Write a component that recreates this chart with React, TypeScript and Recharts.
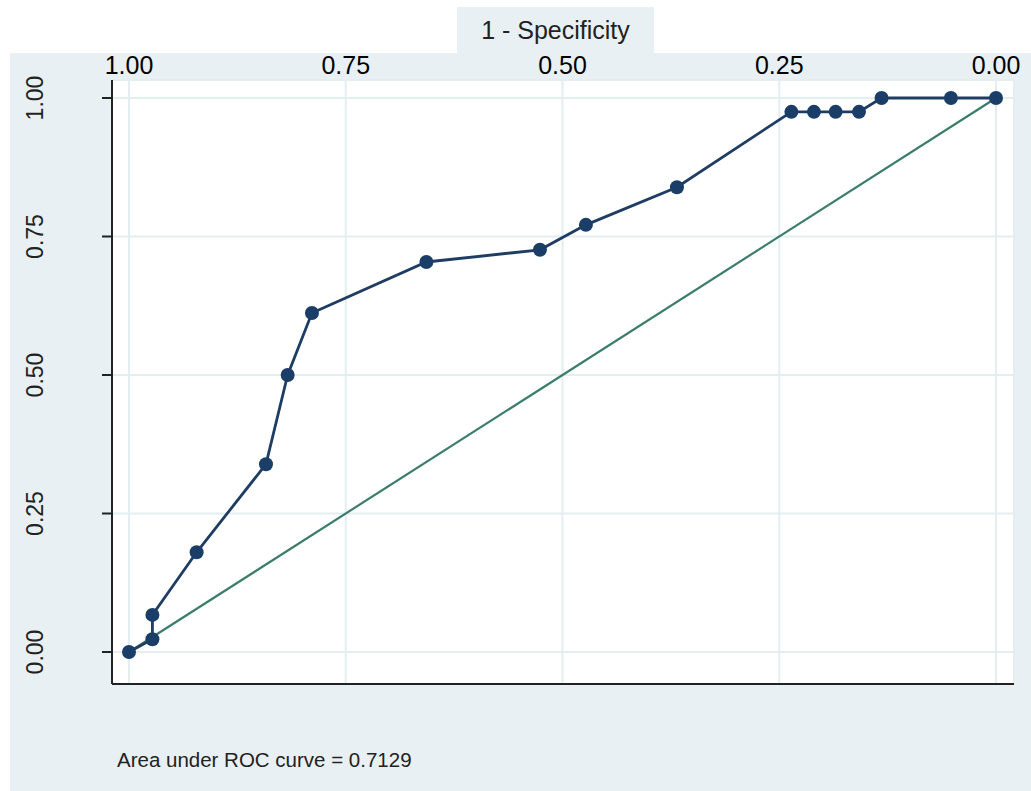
import React from 'react'
import { ComposedChart, Line, XAxis, YAxis, CartesianGrid } from 'recharts'

// ROC points (x axis shown 1.00 -> 0.00 left to right)
const fpr = [1.0, 0.973, 0.973, 0.922, 0.842, 0.817, 0.789, 0.657, 0.526, 0.473, 0.368, 0.236, 0.21, 0.185, 0.158, 0.132, 0.052, 0.0]
const sensitivity = [0, 0.023, 0.067, 0.18, 0.339, 0.5, 0.612, 0.704, 0.726, 0.771, 0.839, 0.975, 0.975, 0.975, 0.975, 1, 1, 1]

const refX = [1, 0]
const refY = [0, 1]

const ticks = [0, 0.25, 0.5, 0.75, 1]
const xTitle = '1 - Specificity'
const aucText = 'Area under ROC curve = 0.7129'

const BG = '#e9f0f3'
const FONT = '"Liberation Sans", Arial, sans-serif'

const rocData = fpr.map((x, i) => ({ x, y: sensitivity[i] }))
const refData = refX.map((x, i) => ({ x, y: refY[i] }))

const fmt = (v: number) => v.toFixed(2)

const TopTick = (props: any) => {
  const { x, payload } = props
  return (
    <text x={x} y={74} textAnchor="middle" fontSize={25} fill="#000" fontFamily={FONT}>
      {fmt(payload.value)}
    </text>
  )
}

const LeftTick = (props: any) => {
  const { y, payload } = props
  return (
    <text
      x={35}
      y={y}
      textAnchor="middle"
      dominantBaseline="central"
      fontSize={23}
      fill="#222"
      fontFamily={FONT}
      transform={`rotate(-90, 35, ${y})`}
    >
      {fmt(payload.value)}
    </text>
  )
}

export default function App() {
  return (
    <div style={{ position: 'absolute', left: 0, top: 0, width: 1031, height: 791, background: '#fff', overflow: 'hidden' }}>
      <div style={{ position: 'absolute', left: 10, top: 53, right: 0, bottom: 0, background: BG }} />
      <div
        style={{
          position: 'absolute',
          left: 457,
          top: 7,
          width: 197,
          height: 47,
          background: BG,
          fontFamily: FONT,
          fontSize: 25,
          color: '#222',
          textAlign: 'center',
          lineHeight: '46px',
        }}
      >
        {xTitle}
      </div>
      <div style={{ position: 'absolute', left: 0, top: 0 }}>
        <ComposedChart width={1031} height={791} margin={{ top: 53, right: 17, bottom: 87, left: 52 }}>
          <CartesianGrid xAxisId="top" fill="#fff" stroke="#e4edf0" strokeWidth={2} />
          <XAxis
            xAxisId="top"
            orientation="top"
            dataKey="x"
            type="number"
            domain={[0, 1]}
            ticks={ticks}
            reversed
            height={27}
            padding={{ left: 17, right: 18 }}
            axisLine={false}
            tickLine={false}
            tick={<TopTick />}
            allowDuplicatedCategory
          />
          <XAxis
            xAxisId="bottom"
            orientation="bottom"
            dataKey="x"
            type="number"
            domain={[0, 1]}
            ticks={ticks}
            reversed
            height={20}
            padding={{ left: 17, right: 18 }}
            axisLine={{ stroke: '#222', strokeWidth: 2 }}
            tickLine={{ stroke: '#222', strokeWidth: 2 }}
            tickSize={12}
            tickFormatter={() => ''}
          />
          <YAxis
            dataKey="y"
            type="number"
            domain={[0, 1]}
            ticks={ticks}
            width={60}
            padding={{ top: 18, bottom: 32 }}
            axisLine={{ stroke: '#222', strokeWidth: 2 }}
            tickLine={{ stroke: '#222', strokeWidth: 2 }}
            tickSize={10}
            tick={<LeftTick />}
          />
          <Line
            xAxisId="top"
            data={refData}
            dataKey="y"
            type="linear"
            stroke="#3b7d6b"
            strokeWidth={2.2}
            dot={false}
            activeDot={false}
            isAnimationActive={false}
          />
          <Line
            xAxisId="top"
            data={rocData}
            dataKey="y"
            type="linear"
            stroke="#1f3d63"
            strokeWidth={2.8}
            dot={{ r: 7, fill: '#1a3e68', stroke: '#1a3e68', strokeWidth: 0 }}
            activeDot={false}
            isAnimationActive={false}
          />
        </ComposedChart>
      </div>
      <div
        style={{
          position: 'absolute',
          left: 117,
          top: 748,
          fontFamily: FONT,
          fontSize: 20.5,
          color: '#222',
          whiteSpace: 'nowrap',
        }}
      >
        {aucText}
      </div>
    </div>
  )
}
